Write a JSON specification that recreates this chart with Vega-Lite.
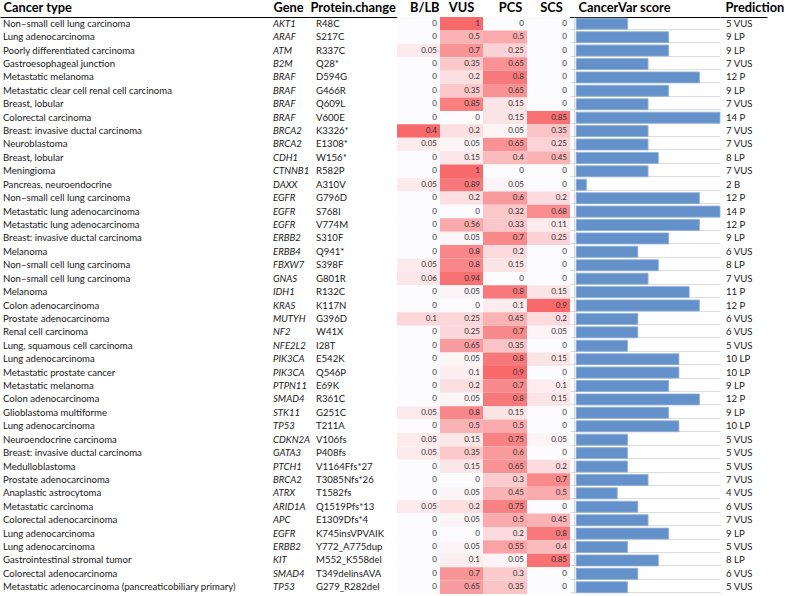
{
  "$schema": "https://vega.github.io/schema/vega-lite/v6.json",
  "padding": {"left": 0, "top": 1, "right": 0, "bottom": 0},
  "autosize": {"type": "pad"},
  "background": "white",
  "spacing": 0,
  "bounds": "flush",
  "data": {"values": [
    {"row": 1, "cancer": "Non\u2013small cell lung carcinoma", "gene": "AKT1", "protein": "R48C", "blb": 0, "vus": 1, "pcs": 0, "scs": 0, "score": 5, "pred": "5 VUS"},
    {"row": 2, "cancer": "Lung adenocarcinoma", "gene": "ARAF", "protein": "S217C", "blb": 0, "vus": 0.5, "pcs": 0.5, "scs": 0, "score": 9, "pred": "9 LP"},
    {"row": 3, "cancer": "Poorly differentiated carcinoma", "gene": "ATM", "protein": "R337C", "blb": 0.05, "vus": 0.7, "pcs": 0.25, "scs": 0, "score": 9, "pred": "9 LP"},
    {"row": 4, "cancer": "Gastroesophageal junction", "gene": "B2M", "protein": "Q28*", "blb": 0, "vus": 0.35, "pcs": 0.65, "scs": 0, "score": 7, "pred": "7 VUS"},
    {"row": 5, "cancer": "Metastatic melanoma", "gene": "BRAF", "protein": "D594G", "blb": 0, "vus": 0.2, "pcs": 0.8, "scs": 0, "score": 12, "pred": "12  P"},
    {"row": 6, "cancer": "Metastatic clear cell renal cell carcinoma", "gene": "BRAF", "protein": "G466R", "blb": 0, "vus": 0.35, "pcs": 0.65, "scs": 0, "score": 9, "pred": "9 LP"},
    {"row": 7, "cancer": "Breast, lobular", "gene": "BRAF", "protein": "Q609L", "blb": 0, "vus": 0.85, "pcs": 0.15, "scs": 0, "score": 7, "pred": "7 VUS"},
    {"row": 8, "cancer": "Colorectal carcinoma", "gene": "BRAF", "protein": "V600E", "blb": 0, "vus": 0, "pcs": 0.15, "scs": 0.85, "score": 14, "pred": "14  P"},
    {"row": 9, "cancer": "Breast: invasive ductal carcinoma", "gene": "BRCA2", "protein": "K3326*", "blb": 0.4, "vus": 0.2, "pcs": 0.05, "scs": 0.35, "score": 7, "pred": "7 VUS"},
    {"row": 10, "cancer": "Neuroblastoma", "gene": "BRCA2", "protein": "E1308*", "blb": 0.05, "vus": 0.05, "pcs": 0.65, "scs": 0.25, "score": 7, "pred": "7 VUS"},
    {"row": 11, "cancer": "Breast, lobular", "gene": "CDH1", "protein": "W156*", "blb": 0, "vus": 0.15, "pcs": 0.4, "scs": 0.45, "score": 8, "pred": "8 LP"},
    {"row": 12, "cancer": "Meningioma", "gene": "CTNNB1", "protein": "R582P", "blb": 0, "vus": 1, "pcs": 0, "scs": 0, "score": 7, "pred": "7 VUS"},
    {"row": 13, "cancer": "Pancreas, neuroendocrine", "gene": "DAXX", "protein": "A310V", "blb": 0.05, "vus": 0.89, "pcs": 0.05, "scs": 0, "score": 1, "pred": "2 B"},
    {"row": 14, "cancer": "Non\u2013small cell lung carcinoma", "gene": "EGFR", "protein": "G796D", "blb": 0, "vus": 0.2, "pcs": 0.6, "scs": 0.2, "score": 12, "pred": "12  P"},
    {"row": 15, "cancer": "Metastatic lung adenocarcinoma", "gene": "EGFR", "protein": "S768I", "blb": 0, "vus": 0, "pcs": 0.32, "scs": 0.68, "score": 14, "pred": "14  P"},
    {"row": 16, "cancer": "Metastatic lung adenocarcinoma", "gene": "EGFR", "protein": "V774M", "blb": 0, "vus": 0.56, "pcs": 0.33, "scs": 0.11, "score": 12, "pred": "12  P"},
    {"row": 17, "cancer": "Breast: invasive ductal carcinoma", "gene": "ERBB2", "protein": "S310F", "blb": 0, "vus": 0.05, "pcs": 0.7, "scs": 0.25, "score": 9, "pred": "9 LP"},
    {"row": 18, "cancer": "Melanoma", "gene": "ERBB4", "protein": "Q941*", "blb": 0, "vus": 0.8, "pcs": 0.2, "scs": 0, "score": 6, "pred": "6 VUS"},
    {"row": 19, "cancer": "Non\u2013small cell lung carcinoma", "gene": "FBXW7", "protein": "S398F", "blb": 0.05, "vus": 0.8, "pcs": 0.15, "scs": 0, "score": 8, "pred": "8 LP"},
    {"row": 20, "cancer": "Non\u2013small cell lung carcinoma", "gene": "GNAS", "protein": "G801R", "blb": 0.06, "vus": 0.94, "pcs": 0, "scs": 0, "score": 7, "pred": "7 VUS"},
    {"row": 21, "cancer": "Melanoma", "gene": "IDH1", "protein": "R132C", "blb": 0, "vus": 0.05, "pcs": 0.8, "scs": 0.15, "score": 11, "pred": "11  P"},
    {"row": 22, "cancer": "Colon adenocarcinoma", "gene": "KRAS", "protein": "K117N", "blb": 0, "vus": 0, "pcs": 0.1, "scs": 0.9, "score": 12, "pred": "12  P"},
    {"row": 23, "cancer": "Prostate adenocarcinoma", "gene": "MUTYH", "protein": "G396D", "blb": 0.1, "vus": 0.25, "pcs": 0.45, "scs": 0.2, "score": 6, "pred": "6 VUS"},
    {"row": 24, "cancer": "Renal cell carcinoma", "gene": "NF2", "protein": "W41X", "blb": 0, "vus": 0.25, "pcs": 0.7, "scs": 0.05, "score": 6, "pred": "6 VUS"},
    {"row": 25, "cancer": "Lung, squamous cell carcinoma", "gene": "NFE2L2", "protein": "I28T", "blb": 0, "vus": 0.65, "pcs": 0.35, "scs": 0, "score": 5, "pred": "5 VUS"},
    {"row": 26, "cancer": "Lung adenocarcinoma", "gene": "PIK3CA", "protein": "E542K", "blb": 0, "vus": 0.05, "pcs": 0.8, "scs": 0.15, "score": 10, "pred": "10  LP"},
    {"row": 27, "cancer": "Metastatic prostate cancer", "gene": "PIK3CA", "protein": "Q546P", "blb": 0, "vus": 0.1, "pcs": 0.9, "scs": 0, "score": 10, "pred": "10  LP"},
    {"row": 28, "cancer": "Metastatic melanoma", "gene": "PTPN11", "protein": "E69K", "blb": 0, "vus": 0.2, "pcs": 0.7, "scs": 0.1, "score": 9, "pred": "9 LP"},
    {"row": 29, "cancer": "Colon adenocarcinoma", "gene": "SMAD4", "protein": "R361C", "blb": 0, "vus": 0.05, "pcs": 0.8, "scs": 0.15, "score": 12, "pred": "12  P"},
    {"row": 30, "cancer": "Glioblastoma multiforme", "gene": "STK11", "protein": "G251C", "blb": 0.05, "vus": 0.8, "pcs": 0.15, "scs": 0, "score": 9, "pred": "9 LP"},
    {"row": 31, "cancer": "Lung adenocarcinoma", "gene": "TP53", "protein": "T211A", "blb": 0, "vus": 0.5, "pcs": 0.5, "scs": 0, "score": 10, "pred": "10  LP"},
    {"row": 32, "cancer": "Neuroendocrine carcinoma", "gene": "CDKN2A", "protein": "V106fs", "blb": 0.05, "vus": 0.15, "pcs": 0.75, "scs": 0.05, "score": 5, "pred": "5 VUS"},
    {"row": 33, "cancer": "Breast: invasive ductal carcinoma", "gene": "GATA3", "protein": "P408fs", "blb": 0.05, "vus": 0.35, "pcs": 0.6, "scs": 0, "score": 5, "pred": "5 VUS"},
    {"row": 34, "cancer": "Medulloblastoma", "gene": "PTCH1", "protein": "V1164Ffs*27", "blb": 0, "vus": 0.15, "pcs": 0.65, "scs": 0.2, "score": 5, "pred": "5 VUS"},
    {"row": 35, "cancer": "Prostate adenocarcinoma", "gene": "BRCA2", "protein": "T3085Nfs*26", "blb": 0, "vus": 0, "pcs": 0.3, "scs": 0.7, "score": 7, "pred": "7 VUS"},
    {"row": 36, "cancer": "Anaplastic astrocytoma", "gene": "ATRX", "protein": "T1582fs", "blb": 0, "vus": 0.05, "pcs": 0.45, "scs": 0.5, "score": 4, "pred": "4 VUS"},
    {"row": 37, "cancer": "Metastatic carcinoma", "gene": "ARID1A", "protein": "Q1519Pfs*13", "blb": 0.05, "vus": 0.2, "pcs": 0.75, "scs": 0, "score": 6, "pred": "6 VUS"},
    {"row": 38, "cancer": "Colorectal adenocarcinoma", "gene": "APC", "protein": "E1309Dfs*4", "blb": 0, "vus": 0.05, "pcs": 0.5, "scs": 0.45, "score": 7, "pred": "7 VUS"},
    {"row": 39, "cancer": "Lung adenocarcinoma", "gene": "EGFR", "protein": "K745insVPVAIK", "blb": 0, "vus": 0, "pcs": 0.2, "scs": 0.8, "score": 9, "pred": "9 LP"},
    {"row": 40, "cancer": "Lung adenocarcinoma", "gene": "ERBB2", "protein": "Y772_A775dup", "blb": 0, "vus": 0.05, "pcs": 0.55, "scs": 0.4, "score": 5, "pred": "5 VUS"},
    {"row": 41, "cancer": "Gastrointestinal stromal tumor", "gene": "KIT", "protein": "M552_K558del", "blb": 0, "vus": 0.1, "pcs": 0.05, "scs": 0.85, "score": 8, "pred": "8 LP"},
    {"row": 42, "cancer": "Colorectal adenocarcinoma", "gene": "SMAD4", "protein": "T349delinsAVA", "blb": 0, "vus": 0.7, "pcs": 0.3, "scs": 0, "score": 6, "pred": "6 VUS"},
    {"row": 43, "cancer": "Metastatic adenocarcinoma (pancreaticobiliary primary)", "gene": "TP53", "protein": "G279_R282del", "blb": 0, "vus": 0.65, "pcs": 0.35, "scs": 0, "score": 5, "pred": "5 VUS"}
  ]},
  "resolve": {"scale": {"x": "independent", "y": "independent", "color": "independent"}},
  "hconcat": [
    {
      "width": 273, "height": 577,
      "mark": {"type": "text", "align": "left", "dx": 3, "fontSize": 9.6, "color": "#1a1a1a"},
      "encoding": {
        "y": {"field": "row", "type": "ordinal", "axis": null, "scale": {"type": "band", "paddingInner": 0, "paddingOuter": 0}},
        "x": {"datum": 0, "type": "quantitative", "scale": {"domain": [0, 1], "nice": false}, "axis": {"orient": "top", "title": "Cancer type", "titleX": 3, "titleAlign": "left"}},
        "text": {"field": "cancer"}
      }
    },
    {
      "width": 37, "height": 577,
      "mark": {"type": "text", "align": "left", "dx": 0, "fontSize": 9.6, "fontStyle": "italic", "color": "#1a1a1a"},
      "encoding": {
        "y": {"field": "row", "type": "ordinal", "axis": null, "scale": {"type": "band", "paddingInner": 0, "paddingOuter": 0}},
        "x": {"datum": 0, "type": "quantitative", "scale": {"domain": [0, 1], "nice": false}, "axis": {"orient": "top", "title": "Gene", "titleX": 0, "titleAlign": "left"}},
        "text": {"field": "gene"}
      }
    },
    {
      "width": 87, "height": 577,
      "mark": {"type": "text", "align": "left", "dx": 6, "fontSize": 9.6, "color": "#1a1a1a"},
      "encoding": {
        "y": {"field": "row", "type": "ordinal", "axis": null, "scale": {"type": "band", "paddingInner": 0, "paddingOuter": 0}},
        "x": {"datum": 0, "type": "quantitative", "scale": {"domain": [0, 1], "nice": false}, "axis": {"orient": "top", "title": "Protein.change", "titleX": 0, "titleAlign": "left"}},
        "text": {"field": "protein"}
      }
    },
    {
      "width": 43, "height": 577,
      "layer": [
        {"mark": {"type": "rect"},
         "encoding": {
           "y": {"field": "row", "type": "ordinal", "axis": null, "scale": {"type": "band", "paddingInner": 0, "paddingOuter": 0}},
           "x": {"datum": 0, "type": "quantitative", "scale": {"domain": [0, 1], "nice": false}, "axis": {"orient": "top", "title": "B/LB", "titleX": 42, "titleAlign": "right"}},
           "x2": {"datum": 1},
           "color": {"field": "blb", "type": "quantitative", "legend": null, "scale": {"range": ["#FCFCFF", "#F8696B"], "interpolate": "rgb", "zero": false}}
         }},
        {"mark": {"type": "text", "align": "right", "dx": -3, "fontSize": 8, "color": "#333333"},
         "encoding": {
           "y": {"field": "row", "type": "ordinal", "axis": null},
           "x": {"datum": 1, "type": "quantitative"},
           "text": {"field": "blb", "type": "nominal"}
         }}
      ]
    },
    {
      "width": 43, "height": 577,
      "layer": [
        {"mark": {"type": "rect"},
         "encoding": {
           "y": {"field": "row", "type": "ordinal", "axis": null, "scale": {"type": "band", "paddingInner": 0, "paddingOuter": 0}},
           "x": {"datum": 0, "type": "quantitative", "scale": {"domain": [0, 1], "nice": false}, "axis": {"orient": "top", "title": "VUS", "titleX": 21, "titleAlign": "center"}},
           "x2": {"datum": 1},
           "color": {"field": "vus", "type": "quantitative", "legend": null, "scale": {"range": ["#FCFCFF", "#F8696B"], "interpolate": "rgb", "zero": false}}
         }},
        {"mark": {"type": "text", "align": "right", "dx": -3, "fontSize": 8, "color": "#333333"},
         "encoding": {
           "y": {"field": "row", "type": "ordinal", "axis": null},
           "x": {"datum": 1, "type": "quantitative"},
           "text": {"field": "vus", "type": "nominal"}
         }}
      ]
    },
    {
      "width": 44, "height": 577,
      "layer": [
        {"mark": {"type": "rect"},
         "encoding": {
           "y": {"field": "row", "type": "ordinal", "axis": null, "scale": {"type": "band", "paddingInner": 0, "paddingOuter": 0}},
           "x": {"datum": 0, "type": "quantitative", "scale": {"domain": [0, 1], "nice": false}, "axis": {"orient": "top", "title": "PCS", "titleX": 27, "titleAlign": "center"}},
           "x2": {"datum": 1},
           "color": {"field": "pcs", "type": "quantitative", "legend": null, "scale": {"range": ["#FCFCFF", "#F8696B"], "interpolate": "rgb", "zero": false}}
         }},
        {"mark": {"type": "text", "align": "right", "dx": -3, "fontSize": 8, "color": "#333333"},
         "encoding": {
           "y": {"field": "row", "type": "ordinal", "axis": null},
           "x": {"datum": 1, "type": "quantitative"},
           "text": {"field": "pcs", "type": "nominal"}
         }}
      ]
    },
    {
      "width": 43, "height": 577,
      "layer": [
        {"mark": {"type": "rect"},
         "encoding": {
           "y": {"field": "row", "type": "ordinal", "axis": null, "scale": {"type": "band", "paddingInner": 0, "paddingOuter": 0}},
           "x": {"datum": 0, "type": "quantitative", "scale": {"domain": [0, 1], "nice": false}, "axis": {"orient": "top", "title": "SCS", "titleX": 24, "titleAlign": "center"}},
           "x2": {"datum": 1},
           "color": {"field": "scs", "type": "quantitative", "legend": null, "scale": {"range": ["#FCFCFF", "#F8696B"], "interpolate": "rgb", "zero": false}}
         }},
        {"mark": {"type": "text", "align": "right", "dx": -3, "fontSize": 8, "color": "#333333"},
         "encoding": {
           "y": {"field": "row", "type": "ordinal", "axis": null},
           "x": {"datum": 1, "type": "quantitative"},
           "text": {"field": "scs", "type": "nominal"}
         }}
      ]
    },
    {
      "width": 150, "height": 577,
      "mark": {"type": "bar", "color": "#6591cb", "stroke": "#8fb0dc", "strokeWidth": 0.8},
      "encoding": {
        "y": {"field": "row", "type": "ordinal", "scale": {"type": "band", "paddingInner": 0.18, "paddingOuter": 0.09},
              "axis": {"title": null, "labels": false, "ticks": false, "domain": true, "domainColor": "#d9d9d9", "grid": true, "gridColor": "#dcdcdc", "bandPosition": 1, "offset": -4}},
        "x": {"field": "score", "type": "quantitative", "scale": {"domain": [-0.6, 14], "nice": false, "zero": false},
              "axis": {"orient": "top", "title": "CancerVar score", "titleX": 8, "titleAlign": "left"}}
      }
    },
    {
      "width": 47, "height": 577,
      "mark": {"type": "text", "align": "left", "dx": 6, "fontSize": 9.6, "color": "#1a1a1a"},
      "encoding": {
        "y": {"field": "row", "type": "ordinal", "axis": null, "scale": {"type": "band", "paddingInner": 0, "paddingOuter": 0}},
        "x": {"datum": 0, "type": "quantitative", "scale": {"domain": [0, 1], "nice": false}, "axis": {"orient": "top", "title": "Prediction", "titleX": 5, "titleAlign": "left"}},
        "text": {"field": "pred"}
      }
    }
  ],
  "config": {
    "font": "Lato",
    "view": {"stroke": null},
    "axisX": {"domain": true, "domainColor": "#000000", "domainWidth": 1, "ticks": false, "labels": false, "grid": false,
              "titleFontSize": 12.8, "titleFontWeight": "bold", "titlePadding": 3, "titleColor": "#000000", "titleFont": "Lato"}
  }
}
